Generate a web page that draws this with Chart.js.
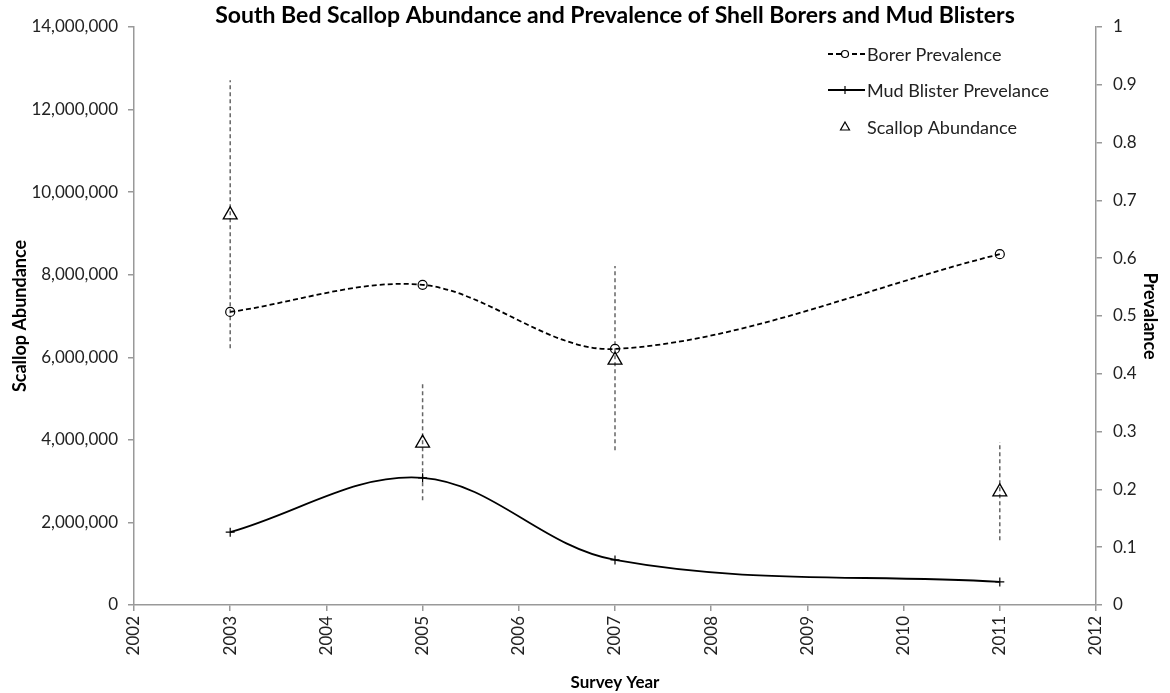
<!DOCTYPE html>
<html>
<head>
<meta charset="utf-8">
<script src="https://cdn.jsdelivr.net/npm/chart.js@4.4.0/dist/chart.umd.min.js"></script>
<style>
  body { margin: 0; background: #fff; }
  #wrap { width: 1170px; height: 693px; }
</style>
</head>
<body>
<div id="wrap"><canvas id="chart"></canvas></div>
<script>
// survey data
var years = [2003, 2005, 2007, 2011];
var borerPrevalence = [0.507, 0.554, 0.443, 0.607];
var mudPrevalence = [0.126, 0.220, 0.078, 0.040];
var scallopAbundance = [9450000, 3920000, 5930000, 2740000];
var abundanceLow = [6220000, 2540000, 3750000, 1570000];
var abundanceHigh = [12710000, 5400000, 8210000, 3950000];

var titleText = 'South Bed Scallop Abundance and Prevalence of Shell Borers and Mud Blisters';
var fontFam = 'Lato, "Liberation Sans", sans-serif';

function pts(ys) {
    return years.map(function(x, i) { return {x: x, y: ys[i]}; });
}

// vertical error bars, one segment per year, separated by gaps
var errPoints = [];
years.forEach(function(x, i) {
    errPoints.push({x: x, y: abundanceLow[i]});
    errPoints.push({x: x, y: abundanceHigh[i]});
    errPoints.push({x: x, y: null});
});

// title + excel-like legend drawn on top
var overlay = {
    id: 'overlay',
    afterDraw: function(chart) {
        var ctx = chart.ctx;
        var area = chart.chartArea;
        ctx.save();
        ctx.fillStyle = '#000';
        ctx.font = 'bold 23px ' + fontFam;
        ctx.textAlign = 'center';
        ctx.textBaseline = 'middle';
        ctx.fillText(titleText, (area.left + area.right) / 2, 16);

        var lx = 828, tx = 867, rows = [54, 90, 127];
        ctx.font = '18px ' + fontFam;
        ctx.textAlign = 'left';
        chart.data.datasets.forEach(function(ds, i) {
            if (!ds.legendLabel) return;
            var y = rows[i];
            ctx.strokeStyle = '#000';
            if (ds.showLine !== false) {
                ctx.lineWidth = ds.borderWidth;
                ctx.setLineDash(ds.borderDash || []);
                ctx.beginPath();
                ctx.moveTo(lx, y);
                ctx.lineTo(lx + 37, y);
                ctx.stroke();
            }
            ctx.setLineDash([]);
            ctx.lineWidth = 1.2;
            var cx = lx + 17;
            ctx.beginPath();
            if (ds.pointStyle === 'circle') {
                ctx.arc(cx, y, 3.5, 0, Math.PI * 2);
                ctx.fillStyle = '#fff';
                ctx.fill();
            } else if (ds.pointStyle === 'cross') {
                ctx.moveTo(cx, y - 4); ctx.lineTo(cx, y + 4);
            } else if (ds.pointStyle === 'triangle') {
                ctx.moveTo(cx, y - 5); ctx.lineTo(cx + 4.5, y + 3); ctx.lineTo(cx - 4.5, y + 3); ctx.closePath();
            }
            ctx.stroke();
            ctx.fillStyle = '#222';
            ctx.fillText(ds.legendLabel, tx, y + 1);
        });
        ctx.restore();
    }
};

var ctx = document.getElementById('chart').getContext('2d');
var chart = new Chart(ctx, {
    type: 'line',
    data: {
        datasets: [{
            legendLabel: 'Borer Prevalence',
            data: pts(borerPrevalence),
            yAxisID: 'y1',
            borderColor: '#000',
            borderWidth: 1.8,
            borderDash: [5, 3],
            tension: 0.33,
            pointStyle: 'circle',
            pointRadius: 4.5,
            pointBorderWidth: 1.2,
            pointBackgroundColor: 'rgba(255,255,255,0)',
            pointBorderColor: '#000'
        }, {
            legendLabel: 'Mud Blister Prevelance',
            data: pts(mudPrevalence),
            yAxisID: 'y1',
            borderColor: '#000',
            borderWidth: 1.8,
            tension: 0.36,
            pointStyle: 'cross',
            pointRadius: 4.5,
            pointBorderWidth: 1.2,
            pointBorderColor: '#000'
        }, {
            legendLabel: 'Scallop Abundance',
            data: pts(scallopAbundance),
            yAxisID: 'y',
            showLine: false,
            pointStyle: 'triangle',
            pointRadius: 8,
            pointBorderWidth: 1.3,
            pointBackgroundColor: 'rgba(255,255,255,0)',
            pointBorderColor: '#000'
        }, {
            data: errPoints,
            yAxisID: 'y',
            borderColor: '#666',
            borderWidth: 1.5,
            borderDash: [4, 3],
            pointRadius: 0,
            spanGaps: false
        }]
    },
    options: {
        responsive: true,
        maintainAspectRatio: false,
        animation: false,
        layout: { padding: { top: 27, left: 0, right: 0, bottom: 0 } },
        scales: {
            x: {
                type: 'linear',
                min: 2002,
                max: 2012,
                afterFit: function(s) { s.height = 88; },
                ticks: {
                    stepSize: 1,
                    minRotation: 90,
                    maxRotation: 90,
                    padding: 5,
                    color: '#222',
                    font: { family: fontFam, size: 17 },
                    callback: function(v) { return String(v); }
                },
                grid: { drawOnChartArea: false, tickLength: 6, color: '#999', lineWidth: 1.5 },
                border: { color: '#999', width: 1.5 },
                title: {
                    display: true,
                    text: 'Survey Year',
                    color: '#000',
                    padding: { top: 0, bottom: 0 },
                    font: { family: fontFam, size: 17, weight: 'bold' }
                }
            },
            y: {
                position: 'left',
                min: 0,
                max: 14000000,
                afterFit: function(s) { s.width = 134; },
                ticks: {
                    stepSize: 2000000,
                    padding: 10,
                    color: '#222',
                    font: { family: fontFam, size: 17 },
                    callback: function(v) { return v.toLocaleString('en-US'); }
                },
                grid: { drawOnChartArea: false, tickLength: 6, color: '#999', lineWidth: 1.5 },
                border: { color: '#999', width: 1.5 },
                title: {
                    display: true,
                    text: 'Scallop Abundance',
                    color: '#000',
                    padding: { top: 9, bottom: 9 },
                    font: { family: fontFam, size: 18, weight: 'bold' }
                }
            },
            y1: {
                position: 'right',
                min: 0,
                max: 1,
                afterFit: function(s) { s.width = 74; },
                ticks: {
                    stepSize: 0.1,
                    padding: 11,
                    color: '#222',
                    font: { family: fontFam, size: 17 },
                    callback: function(v) { return String(Math.round(v * 10) / 10); }
                },
                grid: { drawOnChartArea: false, tickLength: 6, color: '#999', lineWidth: 1.5 },
                border: { color: '#999', width: 1.5 },
                title: {
                    display: true,
                    text: 'Prevalance',
                    color: '#000',
                    padding: { top: 9, bottom: 9 },
                    font: { family: fontFam, size: 18, weight: 'bold' }
                }
            }
        },
        plugins: {
            legend: { display: false },
            title: { display: false },
            tooltip: { enabled: false }
        }
    },
    plugins: [overlay]
});
</script>
</body>
</html>
